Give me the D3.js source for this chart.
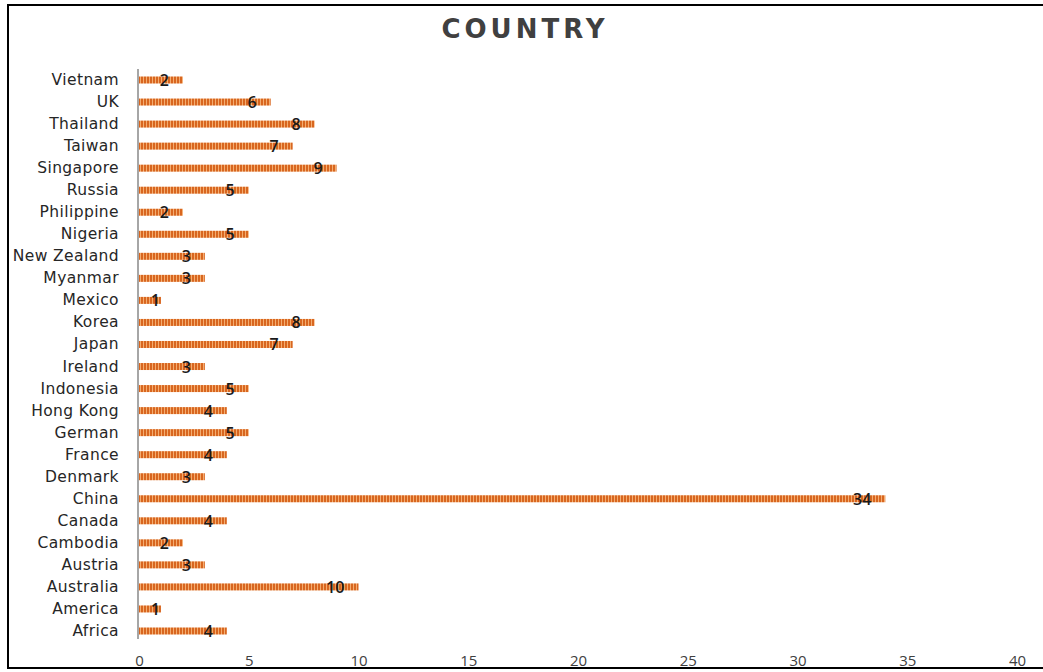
<!DOCTYPE html>
<html><head><meta charset="utf-8">
<script src="https://cdn.jsdelivr.net/npm/d3@7"></script>
<style>body{margin:0;background:#fff;} svg{display:block;}</style>
</head><body>
<svg id="c" width="1043" height="672"></svg>
<script>
const categories = ["Vietnam","UK","Thailand","Taiwan","Singapore","Russia","Philippine","Nigeria","New Zealand","Myanmar","Mexico","Korea","Japan","Ireland","Indonesia","Hong Kong","German","France","Denmark","China","Canada","Cambodia","Austria","Australia","America","Africa"];
const values = [2,6,8,7,9,5,2,5,3,3,1,8,7,3,5,4,5,4,3,34,4,2,3,10,1,4];
const xTicks = [0,5,10,15,20,25,30,35,40];
const title = "COUNTRY";

const svg = d3.select("#c");
const defs = svg.append("defs");
const pat = defs.append("pattern").attr("id","stripe").attr("patternUnits","userSpaceOnUse")
  .attr("width",3).attr("height",10);
pat.append("rect").attr("width",3).attr("height",10).attr("fill","#f4ad70");
pat.append("rect").attr("width",2).attr("height",10).attr("fill","#d8661f");

// frame
svg.append("line").attr("x1",8).attr("x2",1043).attr("y1",5).attr("y2",5).attr("stroke","#000").attr("stroke-width",2);
svg.append("line").attr("x1",8).attr("x2",1043).attr("y1",668).attr("y2",668).attr("stroke","#000").attr("stroke-width",2);
svg.append("line").attr("x1",8).attr("x2",8).attr("y1",4).attr("y2",669).attr("stroke","#000").attr("stroke-width",2);

const x = d3.scaleLinear().domain([0,40]).range([139,1017]);
const y = d3.scalePoint().domain(categories).range([80,631]);

svg.append("text").attr("x",525).attr("y",38).attr("text-anchor","middle")
  .attr("font-family","'DejaVu Sans', sans-serif").attr("font-weight","bold")
  .attr("font-size",26).attr("letter-spacing",4).attr("fill","#404040").text(title);

const bh = 7;
svg.append("g").selectAll("rect").data(categories).join("rect")
  .attr("x",x(0)).attr("y",d=>y(d)-bh/2).attr("height",bh)
  .attr("width",(d,i)=>x(values[i])-x(0)).attr("fill","url(#stripe)");

// y axis line
svg.append("line").attr("x1",138).attr("x2",138).attr("y1",69).attr("y2",639).attr("stroke","#a6a6a6").attr("stroke-width",2);

// category labels
svg.append("g").selectAll("text").data(categories).join("text")
  .attr("x",119).attr("y",d=>y(d)+5).attr("text-anchor","end")
  .attr("font-family","'DejaVu Sans', sans-serif").attr("font-size",15.5).attr("letter-spacing",0.4).attr("fill","#262626")
  .text(d=>d);

// value labels
svg.append("g").selectAll("text").data(values).join("text")
  .attr("x",v=>Math.max(x(v)-14,160)).attr("y",(v,i)=>y(categories[i])+6).attr("text-anchor","end")
  .attr("font-family","'Open Sans', sans-serif").attr("font-weight",600).attr("font-size",16).attr("fill","#1a1a1a")
  .text(v=>v);

// x axis
const xa = d3.axisBottom(x).tickValues(xTicks).tickSize(0).tickPadding(0);
const gx = svg.append("g").attr("transform","translate(0,655)").call(xa);
gx.select(".domain").remove();
gx.selectAll("text").attr("font-family","'Open Sans', sans-serif").attr("font-size",15).attr("fill","#404040");
</script>
</body></html>
